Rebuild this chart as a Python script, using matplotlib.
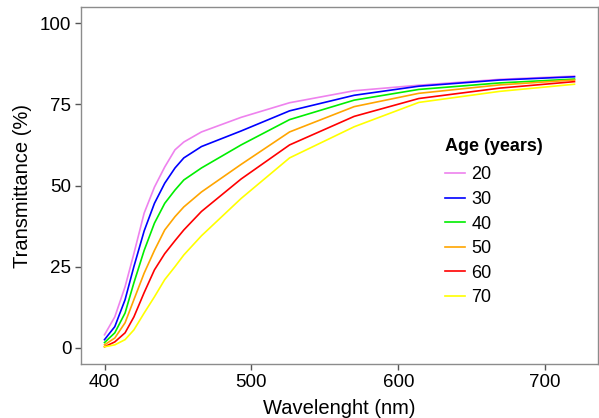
import numpy as np
import matplotlib
matplotlib.use("Agg")
import matplotlib.pyplot as plt

plt.rcParams['font.family'] = ['Liberation Sans', 'DejaVu Sans']

# wavelength grid (nm) and transmittance (%) per age group
wavelength = [400, 407, 414, 420, 427, 434, 441, 448, 454, 466, 493, 526, 570, 614, 669, 720]
t20 = [4.0, 9.5, 18.8, 29, 41.5, 49.5, 55.7, 61, 63.4, 66.5, 71, 75.5, 79.2, 80.9, 82.7, 83.7]
t30 = [2.5, 6.5, 14.8, 25, 36, 44.5, 50.7, 55.4, 58.5, 62, 66.8, 73, 77.8, 80.6, 82.5, 83.5]
t40 = [1.6, 4.6, 10.7, 20, 30, 38.4, 44.5, 48.6, 51.7, 55.4, 62.5, 70.3, 76.3, 79.6, 81.6, 82.8]
t50 = [0.9, 3.0, 7.7, 14.8, 23, 30, 36.3, 40.4, 43.4, 48, 56.5, 66.5, 74.3, 78.4, 81, 82.5]
t60 = [0.3, 1.8, 4.6, 9.5, 17, 24, 29, 33, 36.3, 42, 52, 62.5, 71.3, 76.8, 80, 82]
t70 = [0.3, 0.9, 2.5, 5.5, 10.7, 15.7, 21, 25, 28.6, 34.5, 46, 58.5, 68.1, 75.6, 79, 81.2]

ages = ['20', '30', '40', '50', '60', '70']
series = [t20, t30, t40, t50, t60, t70]
colors = ['#EE82EE', '#0000FF', '#00EE00', '#FFA500', '#FF0000', '#FFFF00']

fig = plt.figure(figsize=(5.99, 4.18), dpi=100)
ax = fig.add_axes([81/599, 1-364/418, (598-81)/599, (364-7)/418])

for age, t, c in zip(ages, series, colors):
    ax.plot(wavelength, t, color=c, lw=1.2, label=age)

ax.set_xlim(384, 736)
ax.set_ylim(-5, 105)
ax.set_xticks([400, 500, 600, 700])
ax.set_yticks([0, 25, 50, 75, 100])

for s in ax.spines.values():
    s.set_color('#8c8c8c')
    s.set_linewidth(1.0)
ax.tick_params(direction='out', length=4, width=1, color='#555555',
               labelsize=13.5, labelcolor='black', pad=3)

ax.set_xlabel('Wavelenght (nm)', fontsize=14.5, labelpad=6)
ax.set_ylabel('Transmittance (%)', fontsize=14.5, labelpad=6)

leg = ax.legend(title='Age (years)', loc='upper left', bbox_to_anchor=(429/599, 1-122/418),
                bbox_transform=fig.transFigure, frameon=False, fontsize=13,
                handlelength=1.1, handletextpad=0.35, labelspacing=0.42,
                title_fontproperties={'weight': 'bold', 'size': 13})
leg._legend_box.align = 'left'
leg._legend_box.sep = 8

fig.savefig('out.png', dpi=100)
